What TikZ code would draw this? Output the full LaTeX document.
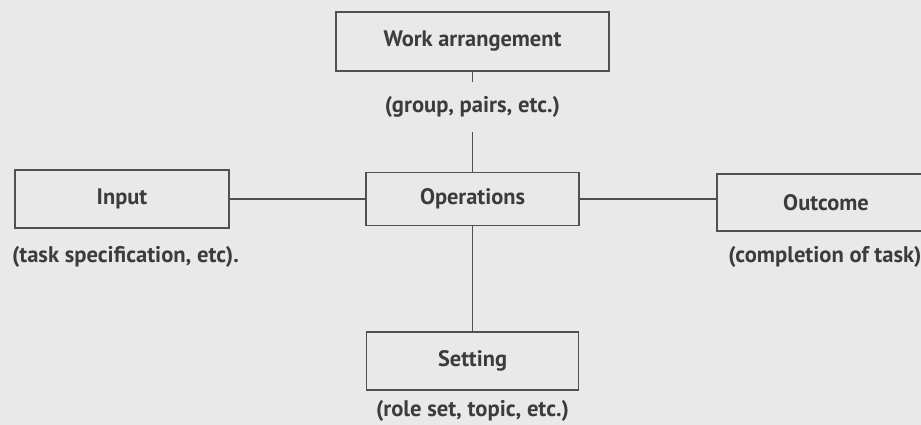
\documentclass[tikz,border=0pt]{standalone}
\usepackage{fontspec}
\setmainfont{PT Sans}
\definecolor{paper}{HTML}{E9E9E9}
\definecolor{ink}{HTML}{3C3C3C}
\definecolor{edge}{HTML}{505050}
\begin{document}
\begin{tikzpicture}[x=1pt,y=-1pt,
  box/.style={draw=edge, line width=1.3pt, rectangle, inner sep=0pt, text=ink,
     font=\fontsize{22.4}{26}\selectfont\bfseries},
  lbl/.style={inner sep=0pt, text=ink, font=\fontsize{22.6}{26}\selectfont\bfseries},
  link/.style={draw=edge, line width=1.3pt}]
\fill[paper] (0,0) rectangle (921,425);
\useasboundingbox (0,0) rectangle (921,425);
\node[box, minimum width=273pt, minimum height=59pt] (work) at (472.5,41.5) {Work arrangement};
\node[lbl, inner ysep=14pt] (group) at (472.5,107) {(group, pairs, etc.)};
\node[box, minimum width=214pt, minimum height=58pt] (input) at (122,199) {Input};
\node[box, minimum width=213pt, minimum height=53pt] (ops) at (472.5,199) {Operations};
\node[box, minimum width=218pt, minimum height=57pt] (out) at (826,202.5) {Outcome};
\node[box, minimum width=212pt, minimum height=58pt] (set) at (472.5,361) {Setting};
\node[lbl, anchor=west] (task) at (12,257) {(task specification, etc).};
\node[lbl] (compl) at (825,257) {(completion of task)};
\node[lbl] (role) at (472.5,411) {(role set, topic, etc.)};
\draw[link] (work.south) -- (group.north);
\draw[link] (group.south) -- (ops.north);
\draw[link] (input.east) -- (ops.west);
\draw[link] (ops.east) -- (ops.east -| out.west);
\draw[link] (ops.south) -- (set.north);
\end{tikzpicture}
\end{document}
